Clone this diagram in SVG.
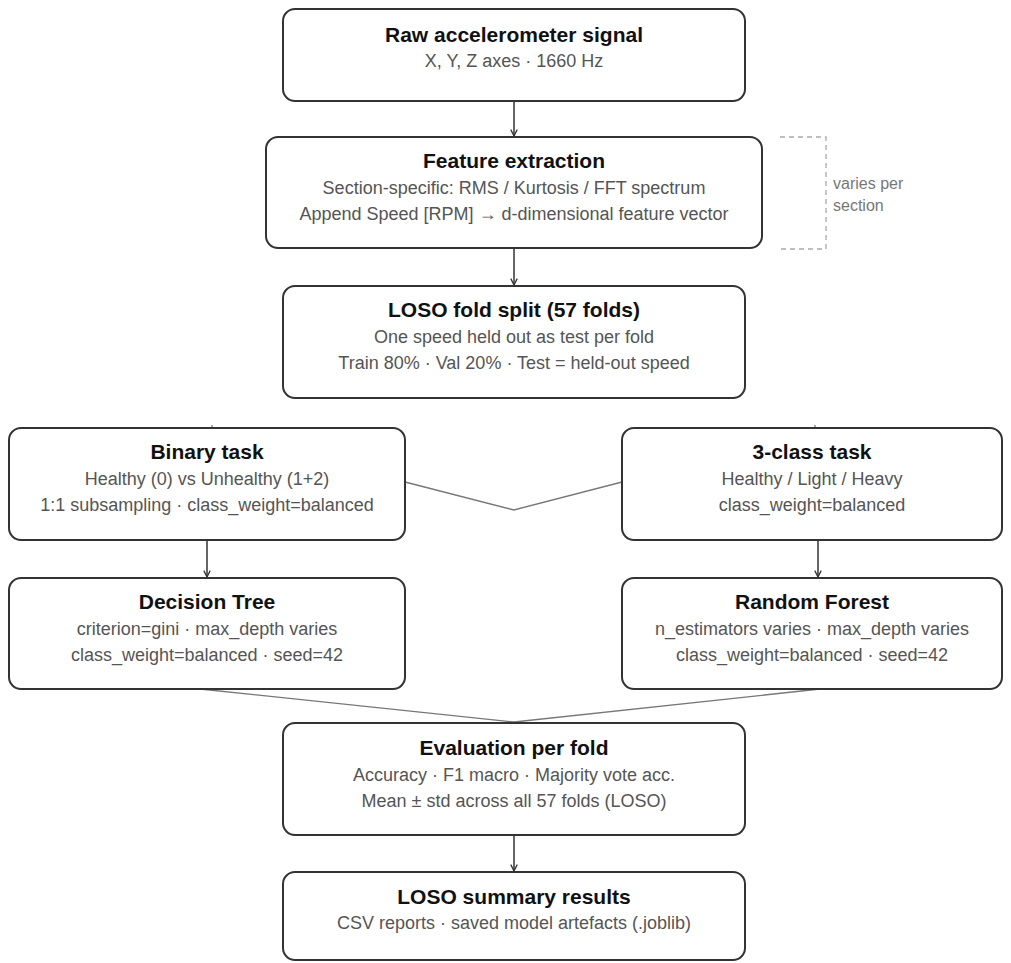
<svg xmlns="http://www.w3.org/2000/svg" width="1011" height="963" viewBox="0 0 1011 963">
  <style>
    .box { fill: #ffffff; stroke: #333333; stroke-width: 2; }
    .title { font-family: "Liberation Sans", Arial, sans-serif; font-size: 21px; font-weight: bold; fill: #111111; text-anchor: middle; }
    .sub { font-family: "Liberation Sans", Arial, sans-serif; font-size: 18px; fill: #555555; text-anchor: middle; }
    .note { font-family: "Liberation Sans", Arial, sans-serif; font-size: 16px; fill: #777777; }
    .arrow { stroke: #333333; stroke-width: 1.5; fill: none; marker-end: url(#head); }
    .link { stroke: #777777; stroke-width: 1.3; fill: none; }
    .stub { stroke: #555555; stroke-width: 1; fill: none; }
    .bracket { stroke: #aaaaaa; stroke-width: 1.3; stroke-dasharray: 5 4; fill: none; }
  </style>
  <defs>
    <marker id="head" viewBox="0 0 10 10" refX="9" refY="5" markerWidth="8" markerHeight="8" markerUnits="userSpaceOnUse" orient="auto">
      <path d="M1,1 L9,5 L1,9" fill="none" stroke="#333333" stroke-width="1.6"/>
    </marker>
  </defs>
  <rect width="1011" height="963" fill="#ffffff"/>

  <!-- connectors -->
  <g id="connectors">
    <line class="arrow" x1="514" y1="101" x2="514" y2="136"/>
    <line class="arrow" x1="514" y1="248" x2="514" y2="285"/>
    <polyline class="link" points="405,482 514,510 622,482"/>
    <line class="stub" x1="212" y1="425" x2="212" y2="428"/>
    <line class="stub" x1="815" y1="425" x2="815" y2="428"/>
    <line class="arrow" x1="207" y1="540" x2="207" y2="577"/>
    <line class="arrow" x1="818" y1="540" x2="818" y2="577"/>
    <polyline class="link" points="200,689 514,722 820,689"/>
    <line class="arrow" x1="514" y1="835" x2="514" y2="871"/>
  </g>

  <!-- annotation bracket beside feature extraction -->
  <g id="section-note">
    <polyline class="bracket" points="780,137 826,137 826,249 780,249"/>
    <text class="note" x="833" y="189">varies per</text>
    <text class="note" x="833" y="211">section</text>
  </g>

  <g id="raw-signal">
    <rect class="box" x="283" y="9" width="462" height="92" rx="12"/>
    <text class="title" x="514" y="42">Raw accelerometer signal</text>
    <text class="sub" x="514" y="67">X, Y, Z axes · 1660 Hz</text>
  </g>

  <g id="feature-extraction">
    <rect class="box" x="266" y="137" width="496" height="111" rx="12"/>
    <text class="title" x="514" y="168">Feature extraction</text>
    <text class="sub" x="514" y="194">Section-specific: RMS / Kurtosis / FFT spectrum</text>
    <text class="sub" x="514" y="220">Append Speed [RPM] → d-dimensional feature vector</text>
  </g>

  <g id="loso-split">
    <rect class="box" x="283" y="286" width="462" height="112" rx="12"/>
    <text class="title" x="514" y="317">LOSO fold split (57 folds)</text>
    <text class="sub" x="514" y="343">One speed held out as test per fold</text>
    <text class="sub" x="514" y="369">Train 80% · Val 20% · Test = held-out speed</text>
  </g>

  <g id="binary-task">
    <rect class="box" x="9" y="428" width="396" height="112" rx="12"/>
    <text class="title" x="207" y="459">Binary task</text>
    <text class="sub" x="207" y="485">Healthy (0) vs Unhealthy (1+2)</text>
    <text class="sub" x="207" y="511">1:1 subsampling · class_weight=balanced</text>
  </g>

  <g id="three-class-task">
    <rect class="box" x="622" y="428" width="380" height="112" rx="12"/>
    <text class="title" x="812" y="459">3-class task</text>
    <text class="sub" x="812" y="485">Healthy / Light / Heavy</text>
    <text class="sub" x="812" y="511">class_weight=balanced</text>
  </g>

  <g id="decision-tree">
    <rect class="box" x="9" y="578" width="396" height="111" rx="12"/>
    <text class="title" x="207" y="609">Decision Tree</text>
    <text class="sub" x="207" y="635">criterion=gini · max_depth varies</text>
    <text class="sub" x="207" y="661">class_weight=balanced · seed=42</text>
  </g>

  <g id="random-forest">
    <rect class="box" x="622" y="578" width="380" height="111" rx="12"/>
    <text class="title" x="812" y="609">Random Forest</text>
    <text class="sub" x="812" y="635">n_estimators varies · max_depth varies</text>
    <text class="sub" x="812" y="661">class_weight=balanced · seed=42</text>
  </g>

  <g id="evaluation">
    <rect class="box" x="283" y="723" width="462" height="112" rx="12"/>
    <text class="title" x="514" y="755">Evaluation per fold</text>
    <text class="sub" x="514" y="781">Accuracy · F1 macro · Majority vote acc.</text>
    <text class="sub" x="514" y="807">Mean ± std across all 57 folds (LOSO)</text>
  </g>

  <g id="summary">
    <rect class="box" x="283" y="872" width="462" height="88" rx="12"/>
    <text class="title" x="514" y="904">LOSO summary results</text>
    <text class="sub" x="514" y="929">CSV reports · saved model artefacts (.joblib)</text>
  </g>
</svg>
